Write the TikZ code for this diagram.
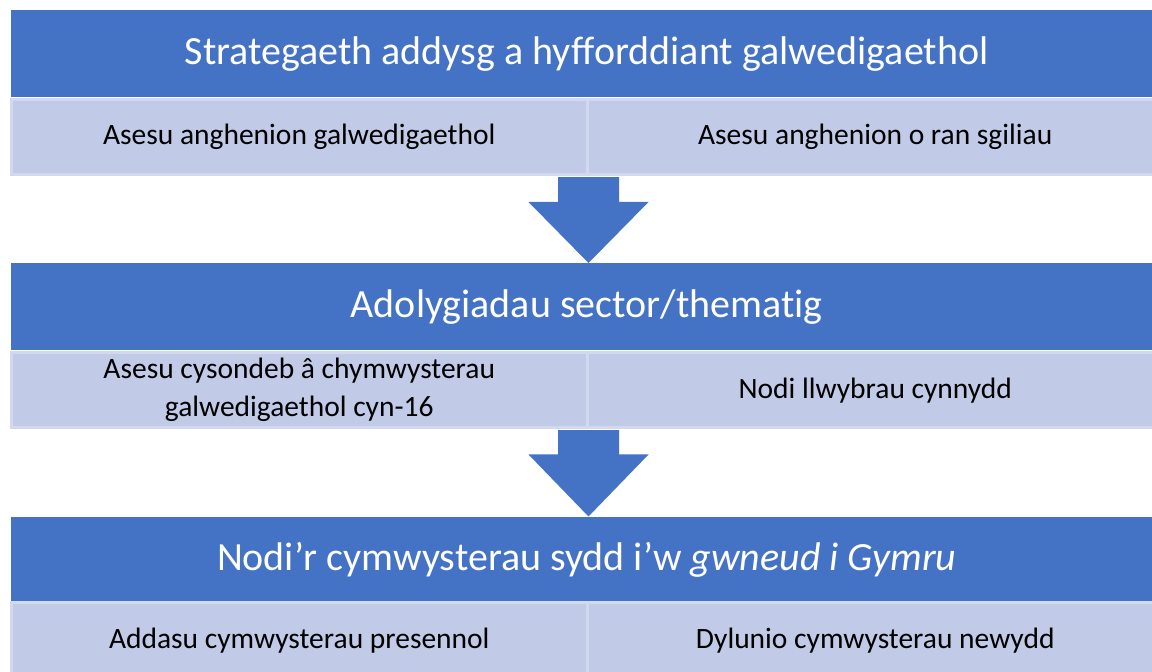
\documentclass[tikz,border=0pt]{standalone}
\usepackage{fontspec}
\setmainfont{Carlito}[Ligatures={NoCommon}]
\usetikzlibrary{calc}
\definecolor{hblue}{HTML}{4472C4}
\definecolor{cellfill}{HTML}{C1CAE6}
\definecolor{cellline}{HTML}{D2D8EE}
\begin{document}
\begin{tikzpicture}[x=1pt,y=1pt,
  header/.style={fill=hblue, text=white, anchor=north west, minimum width=1151pt,
    minimum height=87pt, inner sep=0pt, font=\fontsize{40}{48}\selectfont},
  cell/.style={fill=cellfill, draw=cellline, line width=2.5pt, anchor=north west,
    minimum width=576pt, minimum height=75pt, inner sep=0pt, align=center,
    font=\fontsize{29.5}{38}\selectfont},
  blockarrow/.style={fill=hblue}]
\useasboundingbox (0,0) rectangle (1152,672);

% level 1
\node[header] (h1) at (11,662) {Strategaeth addysg a hyfforddiant galwedigaethol};
\node[cell] (c1a) at (10,573.5) {Asesu anghenion galwedigaethol};
\node[cell] (c1b) at (586,573.5) {Asesu anghenion o ran sgiliau};

% level 2
\node[header] (h2) at (11,409) {Adolygiadau sector/thematig};
\node[cell] (c2a) at (10,320.5) {Asesu cysondeb â chymwysterau\\galwedigaethol cyn-16};
\node[cell] (c2b) at (586,320.5) {Nodi llwybrau cynnydd};

% level 3
\node[header] (h3) at (11,155.5) {Nodi’r cymwysterau sydd i’w \textit{gwneud i Gymru}};
\node[cell] (c3a) at (10,70.5) {Addasu cymwysterau presennol};
\node[cell] (c3b) at (586,70.5) {Dylunio cymwysterau newydd};

% block arrows
\coordinate (t1) at (h2.north -| c1a.south east);
\coordinate (t2) at (h3.north -| c2a.south east);
\fill[blockarrow] ($(c1a.south east)+(-30.5,-1.2)$) -- ($(t1)+(-30.5,61)$) -- ($(t1)+(-60,61)$)
  -- (t1) -- ($(t1)+(60,61)$) -- ($(t1)+(30.5,61)$) -- ($(c1a.south east)+(30.5,-1.2)$) -- cycle;
\fill[blockarrow] ($(c2a.south east)+(-30.5,-1.2)$) -- ($(t2)+(-30.5,62)$) -- ($(t2)+(-60,62)$)
  -- (t2) -- ($(t2)+(60,62)$) -- ($(t2)+(30.5,62)$) -- ($(c2a.south east)+(30.5,-1.2)$) -- cycle;
\end{tikzpicture}
\end{document}
